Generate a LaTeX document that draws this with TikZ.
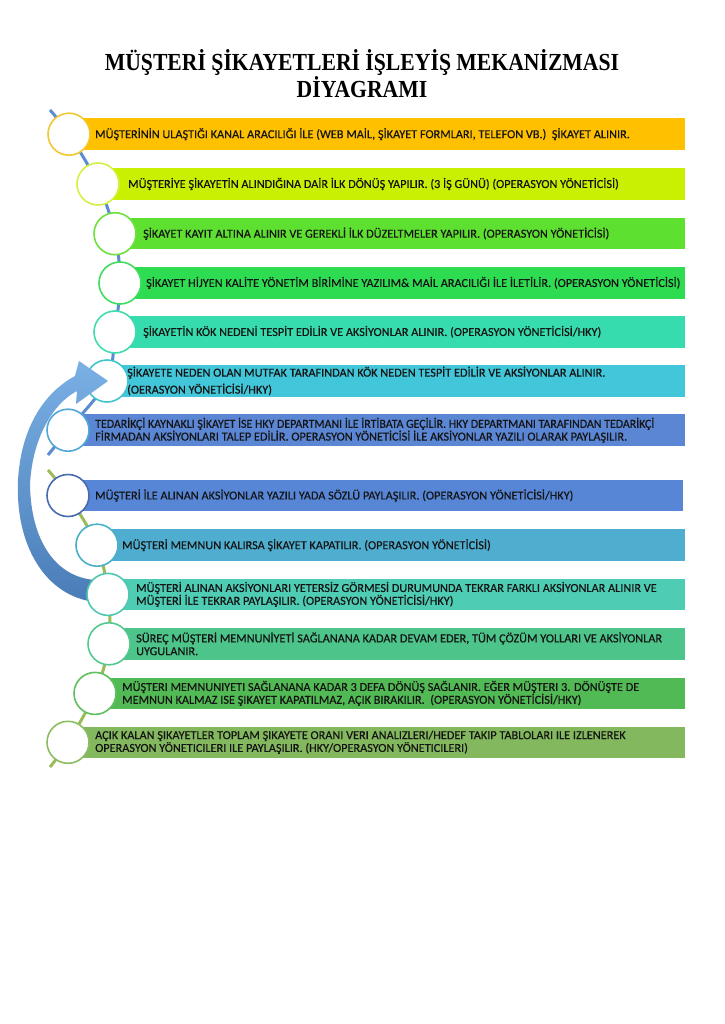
\documentclass[tikz,border=0pt]{standalone}
\usepackage{fontspec}
\setmainfont[FakeBold=0.4]{Carlito}
\newfontfamily\bodyfont[FakeBold=0.4]{Carlito}
\newfontfamily\titlefont{Liberation Serif}
\usetikzlibrary{backgrounds}
\definecolor{cb1}{HTML}{FFC000}
\definecolor{cb2}{HTML}{C8F000}
\definecolor{cb3}{HTML}{5EE030}
\definecolor{cb4}{HTML}{2EDC52}
\definecolor{cb5}{HTML}{36DCAE}
\definecolor{cb6}{HTML}{42C6DA}
\definecolor{cb7}{HTML}{5A86D4}
\definecolor{cb8}{HTML}{5786D6}
\definecolor{cb9}{HTML}{4FAED0}
\definecolor{cb10}{HTML}{4FCCB4}
\definecolor{cb11}{HTML}{4CC48A}
\definecolor{cb12}{HTML}{52BA54}
\definecolor{cb13}{HTML}{84B85E}
\definecolor{ck1}{HTML}{F2C830}
\definecolor{ck2}{HTML}{D4F040}
\definecolor{ck3}{HTML}{6EE040}
\definecolor{ck4}{HTML}{40DC60}
\definecolor{ck5}{HTML}{40DCB0}
\definecolor{ck6}{HTML}{40C4D0}
\definecolor{ck7}{HTML}{50A8D8}
\definecolor{ck8}{HTML}{4A6AB0}
\definecolor{ck9}{HTML}{4AB0C8}
\definecolor{ck10}{HTML}{50C8B0}
\definecolor{ck11}{HTML}{55C890}
\definecolor{ck12}{HTML}{60C060}
\definecolor{ck13}{HTML}{8ABE60}
\definecolor{spineblue}{HTML}{5B8BD0}
\definecolor{spinegreen}{HTML}{9BBB59}
\definecolor{arrtop}{HTML}{7AB0E4}
\definecolor{arrbot}{HTML}{4A7DB8}
\begin{document}
\begin{tikzpicture}[x=1pt,y=-1pt,
  bar/.style={rectangle, inner sep=0pt, minimum height=31.5pt, anchor=west},
  circ/.style={circle, fill=white, line width=1.6pt, minimum size=42pt, inner sep=0pt},
  txt/.style={anchor=west, inner sep=0pt, font=\bodyfont\fontsize{12.25}{12.8}\selectfont, align=left, text=black!92},
  spine/.style={line width=3pt}]
\useasboundingbox (0,0) rectangle (724,1024);

\node[font=\titlefont\bfseries\fontsize{24.5}{27}\selectfont, align=center] (title) at (362,74) {\scalebox{0.885}[1]{MÜŞTERİ ŞİKAYETLERİ İŞLEYİŞ MEKANİZMASI}\\\scalebox{0.885}[1]{DİYAGRAMI}};

% bars
\node[bar, fill=cb1, minimum width=616pt] (b1) at (69,134.2) {};
\node[bar, fill=cb2, minimum width=587pt] (b2) at (98,184) {};
\node[bar, fill=cb3, minimum width=570pt] (b3) at (115,233.7) {};
\node[bar, fill=cb4, minimum width=565pt] (b4) at (120,283) {};
\node[bar, fill=cb5, minimum width=570pt] (b5) at (115,332) {};
\node[bar, fill=cb6, minimum width=578pt] (b6) at (107,381) {};
\node[bar, fill=cb7, minimum width=617pt] (b7) at (68,430.2) {};
\node[bar, fill=cb8, minimum width=615pt] (b8) at (68,495.5) {};
\node[bar, fill=cb9, minimum width=588pt] (b9) at (97,545.2) {};
\node[bar, fill=cb10, minimum width=577pt] (b10) at (108,594.4) {};
\node[bar, fill=cb11, minimum width=576pt] (b11) at (109,643.8) {};
\node[bar, fill=cb12, minimum width=590pt] (b12) at (95,693.4) {};
\node[bar, fill=cb13, minimum width=617pt] (b13) at (68,742.3) {};

% texts
\node[txt] (t1) at (95,134.2) {MÜŞTERİNİN ULAŞTIĞI KANAL ARACILIĞI İLE (WEB MAİL, ŞİKAYET FORMLARI, TELEFON VB.)\ \ ŞİKAYET ALINIR.};
\node[txt] (t2) at (128,184) {MÜŞTERİYE ŞİKAYETİN ALINDIĞINA DAİR İLK DÖNÜŞ YAPILIR. (3 İŞ GÜNÜ) (OPERASYON YÖNETİCİSİ)};
\node[txt] (t3) at (143,233.7) {ŞİKAYET KAYIT ALTINA ALINIR VE GEREKLİ İLK DÜZELTMELER YAPILIR. (OPERASYON YÖNETİCİSİ)};
\node[txt] (t4) at (146,283) {ŞİKAYET HİJYEN KALİTE YÖNETİM BİRİMİNE YAZILIM\& MAİL ARACILIĞI İLE İLETİLİR. (OPERASYON YÖNETİCİSİ)};
\node[txt] (t5) at (143,332) {ŞİKAYETİN KÖK NEDENİ TESPİT EDİLİR VE AKSİYONLAR ALINIR. (OPERASYON YÖNETİCİSİ/HKY)};
\node[txt, font=\bodyfont\fontsize{12.25}{17}\selectfont] (t6) at (127,381) {ŞİKAYETE NEDEN OLAN MUTFAK TARAFINDAN KÖK NEDEN TESPİT EDİLİR VE AKSİYONLAR ALINIR.\\(OERASYON YÖNETİCİSİ/HKY)};
\node[txt] (t7) at (95,430.2) {\scalebox{0.97}[1]{TEDARİKÇİ KAYNAKLI ŞİKAYET İSE HKY DEPARTMANI İLE İRTİBATA GEÇİLİR. HKY DEPARTMANI TARAFINDAN TEDARİKÇİ}\\FİRMADAN AKSİYONLARI TALEP EDİLİR. OPERASYON YÖNETİCİSİ İLE AKSİYONLAR YAZILI OLARAK PAYLAŞILIR.};
\node[txt] (t8) at (95,495.5) {MÜŞTERİ İLE ALINAN AKSİYONLAR YAZILI YADA SÖZLÜ PAYLAŞILIR. (OPERASYON YÖNETİCİSİ/HKY)};
\node[txt] (t9) at (122,545.2) {MÜŞTERİ MEMNUN KALIRSA ŞİKAYET KAPATILIR. (OPERASYON YÖNETİCİSİ)};
\node[txt] (t10) at (136,594.4) {MÜŞTERİ ALINAN AKSİYONLARI YETERSİZ GÖRMESİ DURUMUNDA TEKRAR FARKLI AKSİYONLAR ALINIR VE\\MÜŞTERİ İLE TEKRAR PAYLAŞILIR. (OPERASYON YÖNETİCİSİ/HKY)};
\node[txt] (t11) at (136,643.8) {SÜREÇ MÜŞTERİ MEMNUNİYETİ SAĞLANANA KADAR DEVAM EDER, TÜM ÇÖZÜM YOLLARI VE AKSİYONLAR\\UYGULANIR.};
\node[txt] (t12) at (122,693.4) {MÜŞTERI MEMNUNIYETI SAĞLANANA KADAR 3 DEFA DÖNÜŞ SAĞLANIR. EĞER MÜŞTERI 3. DÖNÜŞTE DE\\MEMNUN KALMAZ ISE ŞIKAYET KAPATILMAZ, AÇIK BIRAKILIR.\ \ (OPERASYON YÖNETİCİSİ/HKY)};
\node[txt] (t13) at (95,742.3) {AÇIK KALAN ŞIKAYETLER TOPLAM ŞIKAYETE ORANI VERI ANALIZLERI/HEDEF TAKIP TABLOLARI ILE IZLENEREK\\OPERASYON YÖNETICILERI ILE PAYLAŞILIR. (HKY/OPERASYON YÖNETICILERI)};

% circles
\node[circ, draw=ck1] (c1) at (69,134.2) {};
\node[circ, draw=ck2] (c2) at (98,184) {};
\node[circ, draw=ck3] (c3) at (115,233.7) {};
\node[circ, draw=ck4] (c4) at (120,283) {};
\node[circ, draw=ck5] (c5) at (115,332) {};
\node[circ, draw=ck6] (c6) at (107,381) {};
\node[circ, draw=ck7] (c7) at (68,430.2) {};
\node[circ, draw=ck8] (c8) at (68,495.5) {};
\node[circ, draw=ck9] (c9) at (97,545.2) {};
\node[circ, draw=ck11] (c11) at (109,643.8) {};
\node[circ, draw=ck12] (c12) at (95,693.4) {};
\node[circ, draw=ck13] (c13) at (68,742.3) {};

% curved return arrow
\shade[top color=arrtop, bottom color=arrbot]
  (95,602) .. controls (45,596) and (15,545) .. (18,480)
  .. controls (21,430) and (42,394) .. (75,376)
  -- (79,361) -- (108,381) -- (76,404) -- (77,391)
  .. controls (52,404) and (32,440) .. (30,485)
  .. controls (31,540) and (55,577) .. (95,580) -- cycle;

\node[circ, draw=ck10] (c10) at (108,594.4) {};

% spines
\coordinate (s1) at (50,110);
\coordinate (s2) at (48,455);
\coordinate (s3) at (48,470);
\coordinate (s4) at (50,767);
\begin{scope}[on background layer]
\draw[spine, spineblue] plot[smooth, tension=0.55] coordinates {(s1) (c1.center) (c2.center) (c3.center) (c4.center) (c5.center) (c6.center) (c7.center) (s2)};
\draw[spine, spinegreen] plot[smooth, tension=0.55] coordinates {(s3) (c8.center) (c9.center) (c10.center) (c11.center) (c12.center) (c13.center) (s4)};
\end{scope}
\end{tikzpicture}
\end{document}
